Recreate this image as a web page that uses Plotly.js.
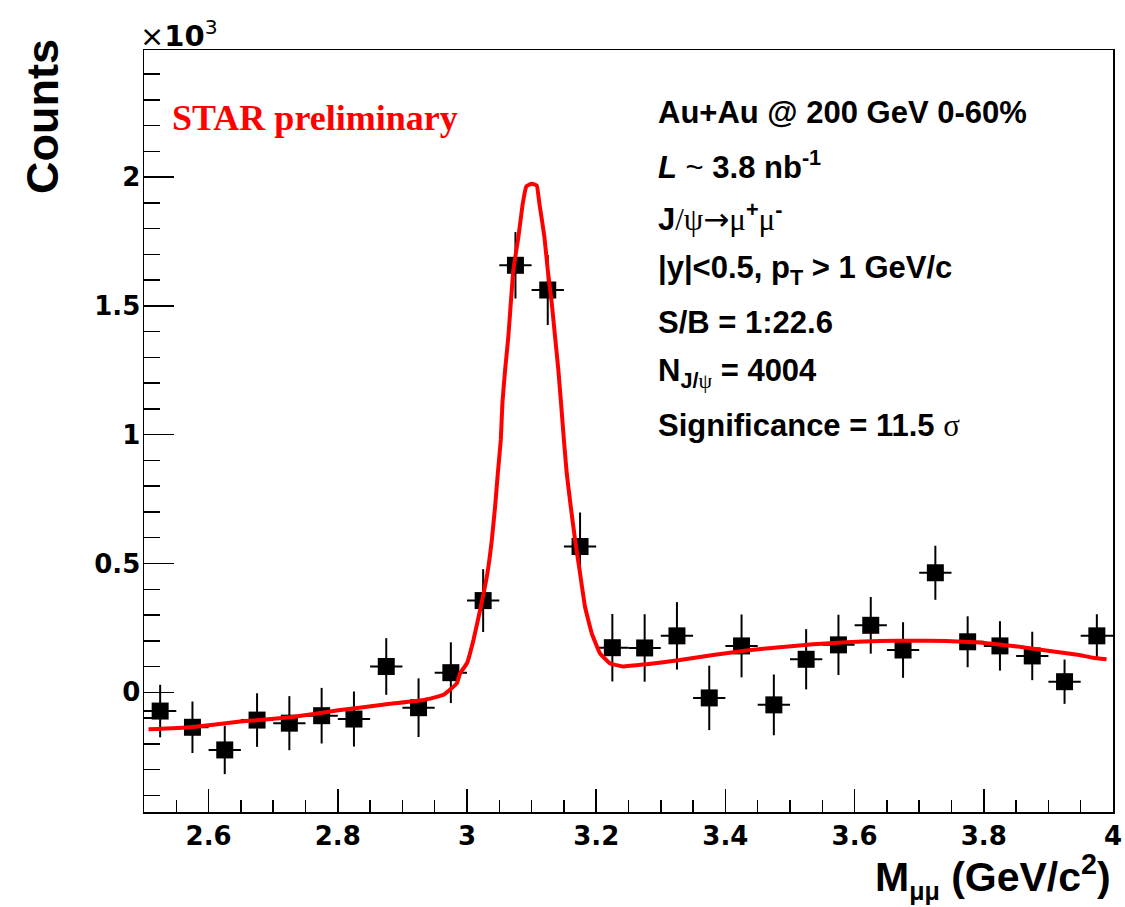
<!DOCTYPE html>
<html>
<head>
<meta charset="utf-8">
<script src="https://cdn.plot.ly/plotly-3.0.1.min.js"></script>
<style>html,body{margin:0;padding:0;background:#fff;}#chart{width:1125px;height:907px;}</style>
</head>
<body>
<div id="chart"></div>
<script>
// ---- data ----
const binCenters = [2.525, 2.575, 2.625, 2.675, 2.725, 2.775, 2.825, 2.875, 2.925, 2.975,
                    3.025, 3.075, 3.125, 3.175, 3.225, 3.275, 3.325, 3.375, 3.425, 3.475,
                    3.525, 3.575, 3.625, 3.675, 3.725, 3.775, 3.825, 3.875, 3.925, 3.975];
const counts = [-73, -136, -224, -108, -120, -91, -104, 100, -60, 76,
                356, 1658, 1562, 566, 173, 172, 219, -22, 180, -49,
                128, 184, 260, 164, 464, 196, 180, 141, 41, 219];
const countErrors = [102, 100, 94, 104, 105, 108, 107, 110, 114, 118,
                     122, 129, 136, 132, 131, 131, 131, 125, 122, 118,
                     117, 117, 110, 108, 105, 99, 96, 94, 86, 84];
const binHalfWidth = 0.025;

// fit curve (mass, counts)
const fitMass = [2.507, 2.572, 2.649, 2.7265, 2.804, 2.881, 2.933, 2.9636, 2.9843, 2.9894,
                 3.000, 3.010, 3.0214, 3.0316, 3.0384, 3.0435, 3.0477, 3.0523, 3.0548, 3.059,
                 3.064, 3.0678, 3.0718, 3.0796, 3.0864, 3.092, 3.100, 3.108, 3.112, 3.1198,
                 3.125, 3.1312, 3.1363, 3.1414, 3.1456, 3.150, 3.1544, 3.1606, 3.1673, 3.175,
                 3.1827, 3.193, 3.2059, 3.2214, 3.242, 3.278, 3.3296, 3.381, 3.4327, 3.4843,
                 3.5357, 3.5874, 3.6389, 3.690, 3.742, 3.7935, 3.845, 3.8966, 3.948, 3.9687, 3.99];
const fitCounts = [-144, -136, -114, -97, -69, -45, -30, -10, 35, 74,
                   113, 203, 332, 462, 591, 721, 850, 980, 1122, 1252,
                   1381, 1511, 1640, 1769, 1899, 1965, 1975, 1968, 1899, 1769,
                   1640, 1511, 1381, 1252, 1122, 980, 850, 721, 591, 462,
                   332, 230, 151, 112, 100, 109, 125, 145, 162, 175,
                   186, 194, 199, 200, 199, 193, 180, 162, 145, 134, 128];

const xTickStep = 0.2, xMinorStep = 0.05;
const yTickStep = 0.5, yMinorStep = 0.1;
const sym = s => "<span style='font-family:Liberation Serif;font-weight:normal'>" + s + "</span>";
const infoLines = [
  "Au+Au @ 200 GeV 0-60%",
  "<i>L</i> <span style='font-weight:normal'>~</span> 3.8 nb<sup>-1</sup>",
  "J" + sym("/ψ") + "<span style='font-family:DejaVu Sans;font-weight:normal'>→</span>" + sym("μ") + "<sup>+</sup>" + sym("μ") + "<sup>-</sup>",
  "|y|&lt;0.5, p<sub>T</sub> &gt; 1 GeV/c",
  "S/B = 1:22.6",
  "N<sub>J/" + sym("ψ") + "</sub> = 4004",
  "Significance = 11.5 " + sym("σ")
];

// ---- layout helpers (pixel geometry of the frame) ----
const L = 144, R = 1113, T = 50, B = 812;
const px = p => (p - L) / (R - L);
const py = p => (B - p) / (B - T);
const k = 1000;

const data = [
  {
    x: binCenters, y: counts.map(v => v / k), type: 'scatter', mode: 'markers',
    marker: {symbol: 'square', size: 17, color: '#000'},
    error_y: {type: 'data', array: countErrors.map(v => v / k), visible: true, color: '#000', thickness: 2, width: 0},
    error_x: {type: 'constant', value: binHalfWidth, visible: true, color: '#000', thickness: 2, width: 0},
    hoverinfo: 'x+y'
  },
  {
    x: fitMass, y: fitCounts.map(v => v / k), type: 'scatter', mode: 'lines',
    line: {color: '#ff0000', width: 4, shape: 'spline', smoothing: 0.3}
  }
];

const tickFont = {family: 'DejaVu Sans', size: 26, color: '#000', weight: 'bold'};
const txtFont = {family: 'Liberation Sans', size: 31, color: '#000', weight: 'bold'};

const annotations = [];
const baselines = [123, 175, 227, 280, 332, 383, 435];
infoLines.forEach((t, i) => {
  annotations.push({xref: 'paper', yref: 'paper', x: px(656), y: py(baselines[i] - 10),
    xanchor: 'left', yanchor: 'middle', text: t, showarrow: false, font: txtFont});
});
annotations.push({xref: 'paper', yref: 'paper', x: px(170), y: py(118), xanchor: 'left', yanchor: 'middle',
  text: 'STAR preliminary', showarrow: false,
  font: {family: 'Liberation Serif', size: 36, color: '#ff0000', weight: 'bold'}});
annotations.push({xref: 'paper', yref: 'paper', x: px(42), y: py(117), xanchor: 'center', yanchor: 'middle',
  text: 'Counts', textangle: -90, showarrow: false,
  font: {family: 'Liberation Sans', size: 45, color: '#000', weight: 'bold'}});
annotations.push({xref: 'paper', yref: 'paper', x: 1, y: py(877), xanchor: 'right', yanchor: 'middle',
  text: "M<sub><span style='font-size:25px'>μμ</span></sub> (GeV/c<sup>2</sup>)", showarrow: false,
  font: {family: 'Liberation Sans', size: 41, color: '#000', weight: 'bold'}});
annotations.push({xref: 'paper', yref: 'paper', x: px(138), y: py(34), xanchor: 'left', yanchor: 'middle',
  text: "<span style='font-weight:normal'>×</span>10<sup><span style='font-weight:normal'>3</span></sup>", showarrow: false,
  font: {family: 'DejaVu Sans', size: 29, color: '#000', weight: 'bold'}});

const layout = {
  width: 1125, height: 907,
  margin: {l: L, r: 1125 - R, t: T, b: 907 - B, pad: 0},
  paper_bgcolor: '#fff', plot_bgcolor: '#fff',
  showlegend: false,
  xaxis: {
    range: [2.5, 4.0], tick0: 0, dtick: xTickStep, ticks: 'inside', ticklen: 23, tickwidth: 1.5, tickcolor: '#000',
    showline: true, linecolor: '#000', linewidth: 1.5, mirror: true, showgrid: false, zeroline: false,
    tickfont: tickFont,
    minor: {dtick: xMinorStep, tick0: 0, ticks: 'inside', ticklen: 12, tickwidth: 1.5, tickcolor: '#000', showgrid: false}
  },
  yaxis: {
    range: [-0.465, 2.494], tick0: 0, dtick: yTickStep, ticks: 'inside', ticklen: 30, tickwidth: 1.5, tickcolor: '#000',
    showline: true, linecolor: '#000', linewidth: 1.5, mirror: true, showgrid: false, zeroline: false,
    tickfont: tickFont, ticklabelstandoff: -3,
    minor: {dtick: yMinorStep, tick0: 0, ticks: 'inside', ticklen: 16, tickwidth: 1.5, tickcolor: '#000', showgrid: false}
  },
  annotations: annotations
};

Plotly.newPlot('chart', data, layout, {staticPlot: true});
</script>
</body>
</html>
